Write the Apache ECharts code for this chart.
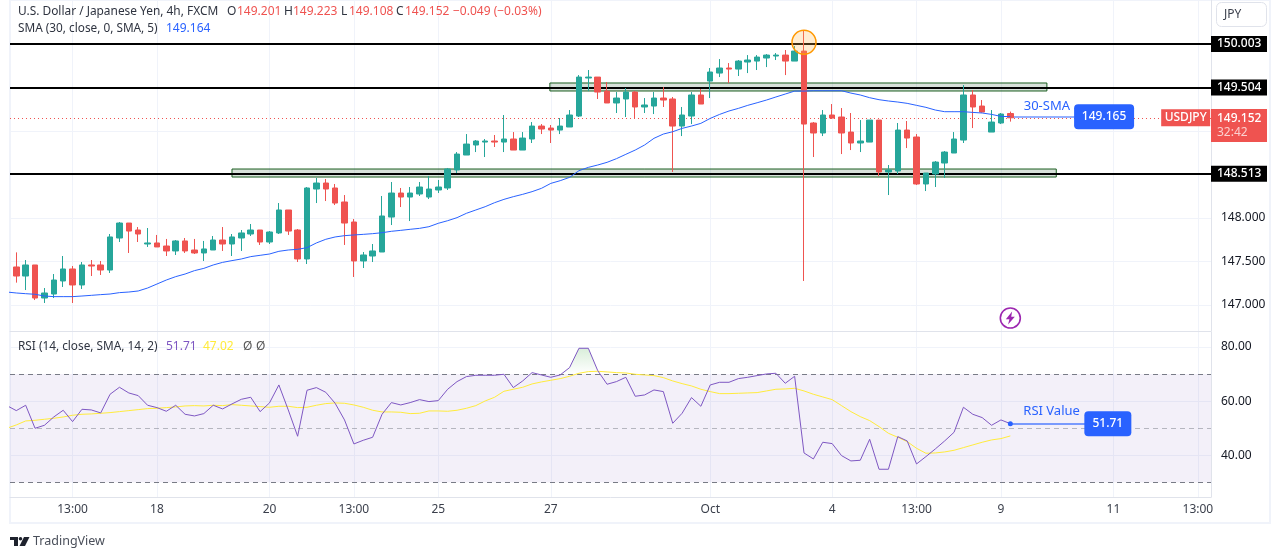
<!DOCTYPE html>
<html><head><meta charset="utf-8">
<style>html,body{margin:0;padding:0;background:#fff}#c{width:1275px;height:559px}</style>
<script src="https://cdn.jsdelivr.net/npm/echarts@6/dist/echarts.min.js"></script></head>
<body><div id="c"></div>
<script>
const opens=[147.437,147.333,147.460,147.080,147.126,147.276,147.414,147.230,147.460,147.460,147.402,147.770,147.942,147.862,147.701,147.713,147.678,147.621,147.736,147.632,147.598,147.632,147.747,147.701,147.770,147.816,147.862,147.724,147.828,148.092,147.862,147.529,148.333,148.402,148.345,148.184,147.954,147.506,147.563,147.609,148.011,148.287,148.241,148.276,148.241,148.322,148.345,148.552,148.724,148.839,148.873,148.885,148.873,148.908,148.781,148.908,149.057,149.034,149.011,149.046,149.172,149.609,149.620,149.459,149.322,149.368,149.448,149.276,149.287,149.379,149.368,149.057,149.172,149.414,149.574,149.666,149.724,149.712,149.793,149.804,149.839,149.862,149.873,149.804,149.919,149.092,148.977,149.184,149.161,148.988,148.862,148.873,149.126,148.529,148.540,149.011,148.931,148.391,148.506,148.632,148.747,148.896,149.414,149.287,148.988,149.092,149.201];
const closes=[147.333,147.460,147.080,147.138,147.287,147.414,147.230,147.460,147.448,147.402,147.782,147.942,147.850,147.816,147.713,147.667,147.621,147.736,147.621,147.598,147.644,147.747,147.701,147.782,147.828,147.862,147.724,147.839,148.092,147.850,147.529,148.345,148.402,148.333,148.172,147.942,147.506,147.575,147.621,148.023,148.287,148.241,148.287,148.356,148.333,148.356,148.563,148.735,148.850,148.885,148.885,148.873,148.908,148.781,148.919,149.057,149.023,149.011,149.057,149.184,149.620,149.620,149.448,149.322,149.379,149.448,149.276,149.299,149.379,149.356,149.057,149.184,149.414,149.310,149.678,149.724,149.712,149.804,149.816,149.850,149.873,149.873,149.804,149.919,149.080,148.977,149.184,149.149,148.977,148.862,148.885,149.126,148.529,148.552,149.011,148.919,148.391,148.517,148.643,148.758,148.908,149.414,149.276,149.218,149.103,149.195,149.152];
const lows=[147.257,147.172,147.057,147.023,147.080,147.207,147.023,147.184,147.333,147.345,147.368,147.724,147.598,147.724,147.667,147.667,147.563,147.575,147.598,147.586,147.506,147.632,147.621,147.563,147.621,147.793,147.690,147.701,147.816,147.805,147.494,147.471,148.172,148.195,148.149,147.690,147.322,147.425,147.494,147.609,147.919,148.126,147.965,148.253,148.218,148.287,148.322,148.517,148.724,148.758,148.701,148.816,148.758,148.781,148.781,148.862,148.965,148.862,148.965,149.046,149.161,149.459,149.368,149.322,149.207,149.161,149.138,149.207,149.195,149.276,148.529,148.942,149.080,149.310,149.379,149.620,149.551,149.632,149.666,149.701,149.735,149.816,149.643,149.804,147.276,148.701,148.942,149.138,148.735,148.781,148.758,148.873,148.483,148.264,148.506,148.804,148.379,148.310,148.356,148.460,148.747,148.862,149.034,149.210,148.988,149.080,149.108];
const highs=[147.605,147.517,147.460,147.195,147.356,147.563,147.448,147.494,147.517,147.506,147.816,147.954,147.942,147.896,147.885,147.805,147.759,147.747,147.770,147.759,147.736,147.793,147.896,147.816,147.862,147.931,147.862,147.850,148.172,148.092,147.873,148.356,148.460,148.448,148.391,148.264,147.988,147.609,147.701,148.253,148.414,148.345,148.356,148.414,148.483,148.437,148.575,148.758,148.965,148.896,148.908,148.954,149.184,148.988,148.988,149.103,149.080,149.069,149.149,149.241,149.643,149.701,149.620,149.563,149.448,149.494,149.459,149.379,149.448,149.505,149.391,149.276,149.448,149.482,149.724,149.827,149.781,149.816,149.873,149.873,149.885,149.896,149.931,149.977,150.161,149.103,149.241,149.310,149.264,149.207,149.126,149.126,149.126,148.609,149.092,149.115,148.965,148.517,148.655,148.770,148.988,149.528,149.471,149.356,149.241,149.207,149.223];
// moving averages and RSI: first value belongs to the partly hidden bar before the first candle
const sma=[147.149,147.138,147.130,147.123,147.103,147.096,147.096,147.096,147.103,147.111,147.119,147.126,147.142,147.149,147.161,147.195,147.241,147.287,147.326,147.356,147.395,147.421,147.460,147.490,147.510,147.529,147.556,147.571,147.586,147.617,147.632,147.640,147.659,147.713,147.755,147.782,147.797,147.805,147.812,147.820,147.831,147.847,147.858,147.870,147.881,147.900,147.939,147.969,148.004,148.054,148.092,148.130,148.176,148.214,148.245,148.272,148.303,148.341,148.398,148.429,148.467,148.544,148.582,148.609,148.640,148.682,148.732,148.781,148.839,148.916,148.965,148.992,149.030,149.057,149.088,149.145,149.191,149.230,149.260,149.295,149.325,149.356,149.391,149.425,149.459,149.459,149.463,149.463,149.463,149.463,149.436,149.414,149.383,149.360,149.345,149.333,149.318,149.295,149.272,149.241,149.222,149.222,149.222,149.214,149.207,149.191,149.168,149.165];
const rsi=[58.34,56.5,58.47,50,51.1,54.17,56.63,52.45,56.99,56.75,55.64,62.52,65.09,63.0,62.02,58.47,57.61,56.26,58.47,55.15,54.54,55.4,58.47,57.12,58.96,60.67,61.41,56.13,59.33,65.95,56.75,47.06,63.99,64.97,63.25,59.2,53.07,44.23,45.58,46.69,55.15,59.45,58.59,59.45,60.55,59.82,60.18,64.36,67.18,69.02,69.51,69.51,69.51,69.88,64.97,67.42,70.49,69.63,68.77,69.63,72.33,79.45,79.45,71.23,66.2,67.18,68.77,61.78,62.27,64.11,63.5,51.84,55.52,61.29,58.1,65.95,66.93,66.93,68.28,68.77,69.39,70,70.25,66.56,69.14,40.92,38.71,44.85,44.36,39.94,37.98,38.22,45.95,34.91,34.91,46.93,45.34,36.87,39.57,42.39,45.34,48.53,57.73,55.15,53.93,51.1,53.07,51.71];
const rsiMa=[50,51.23,52.7,52.94,53.31,53.68,54.17,54.79,55.15,55.28,55.52,55.77,56.13,56.5,56.87,57.24,57.36,57.61,57.85,58.22,58.34,58.22,58.47,58.34,58.71,58.47,58.22,57.98,57.73,58.1,58.1,57.61,57.73,58.47,59.08,59.33,59.2,58.59,57.73,56.63,56.01,56.01,55.89,55.4,55.52,56.38,56.38,56.26,56.63,57.36,58.34,60.06,61.41,63.62,64.36,65.09,66.32,67.06,67.67,68.28,69.14,70.25,70.86,70.98,70.74,70.49,70.37,69.88,69.63,69.39,68.65,67.42,66.44,65.58,64.36,63.5,62.76,62.76,62.88,63.01,63.13,63.74,64.36,64.48,64.72,63.74,62.52,61.53,60.55,58.34,56.13,54.29,52.82,50.61,48.16,46.69,45.09,42.64,40.8,40.92,41.29,41.9,42.88,43.87,44.85,45.71,46.2,47.18];
const timeTicks=[6,15,27,36,45,57,74,87,96,105,117,126];
const timeLabels=['13:00','18','20','13:00','25','27','Oct','4','13:00','9','11','13:00'];
const priceTicks=[147,147.5,148,148.5,149,149.5,150];
const priceLabels=[147,147.5,148];
const rsiTicks=[40,60,80];
const levels=[150.003,149.504,148.513];
const lastPrice=149.152, smaLast=149.165, rsiLast=51.71, countdown='32:42';
const boxes=[[56.9,109.9,149.460,149.552],[23,110.9,148.471,148.563]];
const ohlc=['149.201','149.223','149.108','149.152'];

const FONT='"Noto Sans","Open Sans",sans-serif';
const UP='#26a69a',DOWN='#ef5350',BLUE='#2962ff',LINE='#e0e3eb',GRID='#f0f3fa',TXT='#131722';
const XMIN=-0.672,XMAX=127.4;
const idx=a=>a.map((v,i)=>[i-1,v]);
const candles=opens.map((o,i)=>[i,o,closes[i],lows[i],highs[i]]);
const xBase={type:'value',min:XMIN,max:XMAX,
  axisTick:{show:false,customValues:timeTicks},
  splitLine:{show:true,lineStyle:{color:GRID,width:1}}};
const txt=(x,y,s,fill,o={})=>({type:'text',silent:true,z:30,x,y,style:Object.assign({text:s,fill,font:(o.w||'normal')+' '+(o.size||12)+'px '+FONT,textVerticalAlign:'middle',textAlign:o.a||'left'})});
const tagLabel=(bg)=>({show:true,position:'end',distance:0,color:'#fff',backgroundColor:bg,fontFamily:FONT,fontSize:12,fontWeight:500,padding:[2,5,2,6],width:45,align:'left'});
const roundTag=(w,h)=>'path://M4 0H'+(w-4)+'Q'+w+' 0 '+w+' 4V'+(h-4)+'Q'+w+' '+h+' '+(w-4)+' '+h+'H4Q0 '+h+' 0 '+(h-4)+'V4Q0 0 4 0Z';

const chart=echarts.init(document.getElementById('c'),null,{renderer:'canvas'});
chart.setOption({
  animation:false,backgroundColor:'#fff',
  textStyle:{fontFamily:FONT},
  grid:[{left:10,width:1201,top:0,height:331},{left:10,width:1201,top:332,height:165}],
  xAxis:[
    Object.assign({},xBase,{gridIndex:0,axisLine:{show:true,onZero:false,lineStyle:{color:LINE}},axisLabel:{show:false}}),
    Object.assign({},xBase,{gridIndex:1,axisLine:{show:true,onZero:false,lineStyle:{color:LINE}},
      axisLabel:{show:true,customValues:timeTicks,color:'#3a3f4b',fontSize:12,margin:7,fontFamily:FONT,
        formatter:v=>timeLabels[timeTicks.indexOf(Math.round(v))]||''}})
  ],
  yAxis:[
    {type:'value',gridIndex:0,position:'right',min:146.701,max:150.506,
     axisLine:{show:true,onZero:false,lineStyle:{color:LINE}},axisTick:{show:false,customValues:priceTicks},
     splitLine:{show:true,lineStyle:{color:GRID}},
     axisLabel:{customValues:priceLabels,color:TXT,fontSize:12,margin:10,fontFamily:FONT,formatter:v=>v.toFixed(3)}},
    {type:'value',gridIndex:1,position:'right',min:24.7,max:85.44,
     axisLine:{show:true,onZero:false,lineStyle:{color:LINE}},axisTick:{show:false,customValues:rsiTicks},
     splitLine:{show:true,lineStyle:{color:GRID}},
     axisLabel:{customValues:rsiTicks,color:TXT,fontSize:12,margin:10,fontFamily:FONT,formatter:v=>v.toFixed(2)}}
  ],
  series:[
    {type:'candlestick',name:'USDJPY',xAxisIndex:0,yAxisIndex:0,data:candles,barWidth:6,z:3,
     itemStyle:{color:UP,color0:DOWN,borderColor:UP,borderColor0:DOWN,borderWidth:1},
     markArea:{silent:true,z:1,itemStyle:{color:'rgba(20,70,30,0.17)',borderColor:'#1b5e20',borderWidth:1},
       data:boxes.map(b=>[{xAxis:b[0],yAxis:b[3]},{xAxis:b[1],yAxis:b[2]}])},
     markLine:{silent:true,symbol:'none',z:2,animation:false,
       data:levels.map(v=>({yAxis:v,lineStyle:{color:'#000',width:2,type:'solid'},
           label:Object.assign(tagLabel('#000'),{formatter:v.toFixed(3)})}))
         .concat([{yAxis:lastPrice,lineStyle:{color:DOWN,width:1,type:[1,3]},
           label:{show:true,position:'end',distance:0,offset:[0,7.5],align:'left',backgroundColor:DOWN,padding:[2,5,2,6],fontFamily:FONT,
             formatter:'{a|'+lastPrice.toFixed(3)+'}\n{b|'+countdown+'}',
             rich:{a:{color:'#fff',fontSize:12,fontWeight:500,lineHeight:15,width:45,fontFamily:FONT},b:{color:'#fbd0cf',fontSize:12,lineHeight:14,width:45,fontFamily:FONT}}}}])},
     markPoint:{silent:true,z:6,animation:false,data:[
       {coord:[84,150.02],symbol:'circle',symbolSize:24,itemStyle:{color:'rgba(255,183,77,0.25)',borderColor:'#ff9800',borderWidth:1.5},label:{show:false}},
       {coord:[106,146.85],symbol:'circle',symbolSize:20,itemStyle:{color:'#fff',borderColor:'#9c27b0',borderWidth:1.6},label:{show:false}},
       {coord:[106,146.85],symbol:'path://M7 0L0 9h4L2.5 15L10 6H6L7 0z',symbolSize:[9,13],symbolKeepAspect:false,itemStyle:{color:'#9c27b0'},label:{show:false}},
       {coord:[124.7,lastPrice],symbol:'rect',symbolSize:[49,17],itemStyle:{color:DOWN},
        label:{show:true,position:'inside',formatter:'USDJPY',color:'#fff',fontSize:12,fontWeight:500,fontFamily:FONT}}
     ]}},
    {type:'line',name:'SMA',xAxisIndex:0,yAxisIndex:0,data:idx(sma),showSymbol:false,symbol:'none',z:4,
     lineStyle:{color:BLUE,width:1},
     markLine:{silent:true,symbol:'none',animation:false,z:3,data:[[{coord:[106,smaLast],lineStyle:{color:'rgba(41,98,255,0.5)',width:2,type:'solid'}},{coord:[113,smaLast]}]],label:{show:false}},
     markPoint:{silent:true,animation:false,z:7,data:[
       {coord:[116,smaLast],symbol:roundTag(60,25),symbolSize:[60,25],itemStyle:{color:BLUE},
        label:{show:true,position:'inside',formatter:smaLast.toFixed(3),color:'#fff',fontSize:12,fontWeight:500,fontFamily:FONT}},
       {coord:[109.9,149.287],symbol:'rect',symbolSize:1,itemStyle:{color:'rgba(0,0,0,0)'},
        label:{show:true,position:'inside',formatter:'30-SMA',color:BLUE,fontSize:13,fontFamily:FONT}}
     ]}},
    {type:'line',name:'RSI zone',xAxisIndex:1,yAxisIndex:1,data:idx(rsi.map(v=>Math.max(v,70))),symbol:'none',z:1,
     lineStyle:{width:0},
     areaStyle:{origin:70,color:new echarts.graphic.LinearGradient(0,0,0,1,[{offset:0,color:'rgba(76,175,80,0.3)'},{offset:1,color:'rgba(76,175,80,0)'}])},
     markArea:{silent:true,z:0,itemStyle:{color:'rgba(126,87,194,0.09)'},data:[[{yAxis:70},{yAxis:30}]]},
     markLine:{silent:true,symbol:'none',animation:false,z:2,label:{show:false},data:[
       {yAxis:70,lineStyle:{color:'#787b86',width:1,type:[5,4]}},
       {yAxis:50,lineStyle:{color:'rgba(120,123,134,0.5)',width:1,type:[5,4]}},
       {yAxis:30,lineStyle:{color:'#787b86',width:1,type:[5,4]}}]}},
    {type:'line',name:'RSI-based MA',xAxisIndex:1,yAxisIndex:1,data:idx(rsiMa),symbol:'none',z:3,lineStyle:{color:'#ffeb3b',width:1}},
    {type:'line',name:'RSI',xAxisIndex:1,yAxisIndex:1,data:idx(rsi),symbol:'none',z:4,lineStyle:{color:'#7e57c2',width:1},
     markLine:{silent:true,symbol:'none',animation:false,z:5,label:{show:false},data:[[{coord:[106,rsiLast],lineStyle:{color:'rgba(41,98,255,0.8)',width:1.5,type:'solid'}},{coord:[114.7,rsiLast]}]]},
     markPoint:{silent:true,animation:false,z:7,data:[
       {coord:[106,rsiLast],symbol:'circle',symbolSize:5,itemStyle:{color:BLUE},label:{show:false}},
       {coord:[116.4,rsiLast],symbol:roundTag(47,25),symbolSize:[47,25],itemStyle:{color:BLUE},
        label:{show:true,position:'inside',formatter:rsiLast.toFixed(2),color:'#fff',fontSize:12,fontWeight:500,fontFamily:FONT}},
       {coord:[110.4,56.4],symbol:'rect',symbolSize:1,itemStyle:{color:'rgba(0,0,0,0)'},
        label:{show:true,position:'inside',formatter:'RSI Value',color:BLUE,fontSize:13,fontFamily:FONT}}
     ]}}
  ],
  graphic:[
    {type:'rect',silent:true,z:-1,shape:{x:10,y:0,width:1260,height:523},style:{fill:'none',stroke:GRID,lineWidth:2}},
    {type:'rect',silent:true,z:30,shape:{x:1216.5,y:2.5,width:50,height:24,r:5},style:{fill:'#fff',stroke:LINE,lineWidth:1}},
    txt(1224,15,'JPY','#3a3f4b'),
    txt(18,12,'U.S. Dollar / Japanese Yen, 4h, FXCM','#2f3440',{size:11.9}),
    txt(227,12,'O','#2f3440'),txt(237,12,ohlc[0],DOWN),
    txt(284,12,'H','#2f3440'),txt(293,12,ohlc[1],DOWN),
    txt(341,12,'L','#2f3440'),txt(349,12,ohlc[2],DOWN),
    txt(396,12,'C','#2f3440'),txt(405,12,ohlc[3],DOWN),
    txt(453,12,'−0.049 (−0.03%)',DOWN),
    txt(18,29,'SMA (30, close, 0, SMA, 5)','#2f3440',{size:11.8}),txt(166,29,'149.164',BLUE),
    txt(18,347,'RSI (14, close, SMA, 14, 2)','#2f3440',{size:11.8}),
    txt(166,347,'51.71','#7e57c2'),txt(203,347,'47.02','#ffeb3b'),txt(243,347,'Ø','#555'),txt(256,347,'Ø','#555'),
    {type:'polygon',silent:true,z:30,shape:{points:[[10,537],[18,537],[18,546],[14,546],[14,540],[10,540]]},style:{fill:'#1e222d'}},
    {type:'circle',silent:true,z:30,shape:{cx:20.5,cy:538.7,r:1.8},style:{fill:'#1e222d'}},
    {type:'polygon',silent:true,z:30,shape:{points:[[24,537],[29.5,537],[25,546],[19.5,546]]},style:{fill:'#1e222d'}},
    txt(33,541,'TradingView','#4a4f5a',{size:12.5})
  ]
});
</script></body></html>
